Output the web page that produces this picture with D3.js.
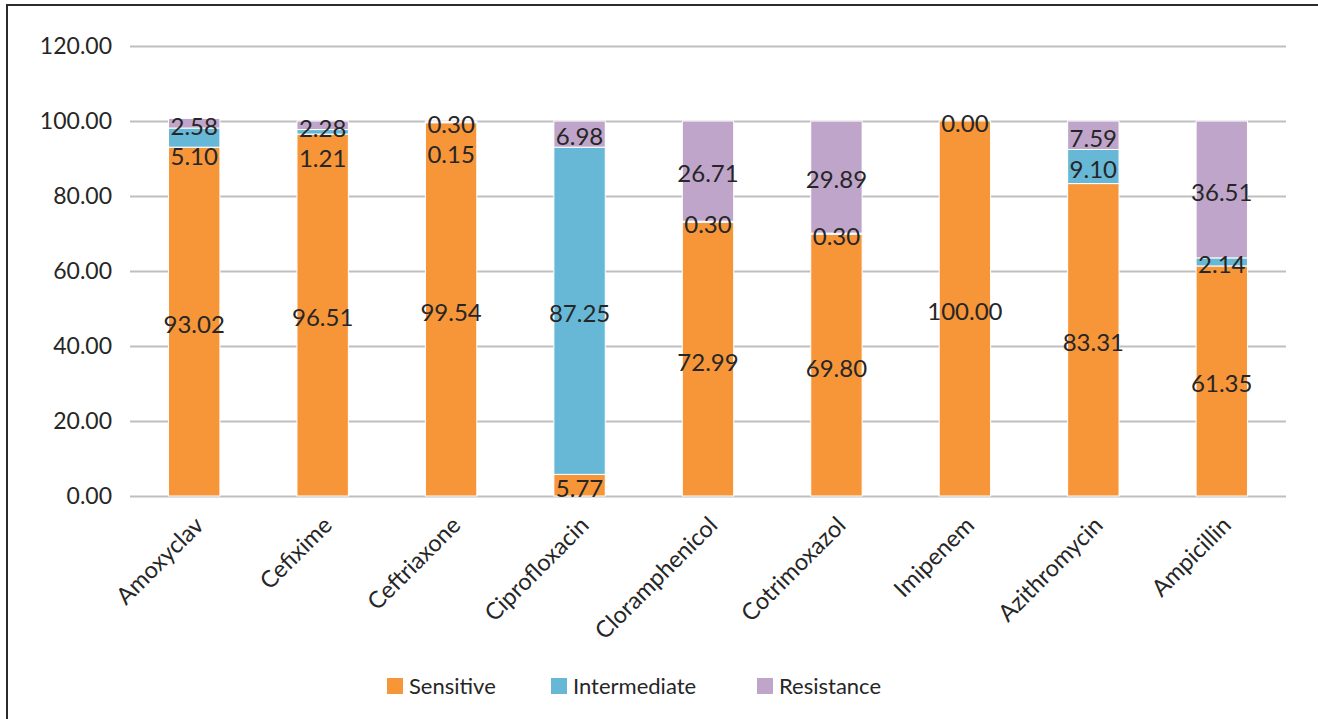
<!DOCTYPE html>
<html>
<head>
<meta charset="utf-8">
<script src="https://cdn.jsdelivr.net/npm/d3@7"></script>
<style>
  html, body { margin: 0; padding: 0; background: #fff; }
  svg { display: block; }
  text { font-family: Lato, "Open Sans", sans-serif; fill: #262626; }
</style>
</head>
<body>
<svg id="chart" width="1318" height="719"></svg>
<script>
const categories = ["Amoxyclav", "Cefixime", "Ceftriaxone", "Ciprofloxacin", "Cloramphenicol", "Cotrimoxazol", "Imipenem", "Azithromycin", "Ampicillin"];
const sensitive    = [93.02, 96.51, 99.54, 5.77, 72.99, 69.80, 100.00, 83.31, 61.35];
const intermediate = [5.10, 1.21, 0.15, 87.25, 0.30, 0.30, null, 9.10, 2.14];
const resistance   = [2.58, 2.28, 0.30, 6.98, 26.71, 29.89, 0.00, 7.59, 36.51];
const seriesNames  = ["Sensitive", "Intermediate", "Resistance"];
const seriesColors = ["#F79539", "#66B8D6", "#BFA5CA"];
const yTicks = [0, 20, 40, 60, 80, 100, 120];

(function () {
const svg = d3.select("#chart");
const W = 1318, H = 719;
const pLeft = 130, pRight = 1286, pTop = 46, pBottom = 496;

// outer frame
svg.append("rect").attr("x", 7).attr("y", 5).attr("width", W + 20).attr("height", H + 20)
  .attr("fill", "none").attr("stroke", "#2b2b2b").attr("stroke-width", 2);

const x = d3.scaleBand().domain(categories).range([pLeft, pRight]).paddingInner(0.6).paddingOuter(0.3);
const y = d3.scaleLinear().domain([0, 120]).range([pBottom, pTop]);

// gridlines
const yAxis = d3.axisLeft(y).tickValues(yTicks).tickSize(-(pRight - pLeft)).tickFormat(d => d.toFixed(2)).tickPadding(18);
const gy = svg.append("g").attr("transform", `translate(${pLeft},0)`).call(yAxis);
gy.select(".domain").remove();
gy.selectAll(".tick line").attr("stroke", "#BFBFBF").attr("stroke-width", 2);
gy.selectAll(".tick text").attr("font-size", 23).attr("fill", "#262626")
  .style("font-family", "Lato, 'Open Sans', sans-serif");

// stacked data
const series = [sensitive, intermediate, resistance];
const stacks = categories.map((c, i) => {
  let acc = 0;
  return series.map((s, k) => {
    const v = s[i];
    const seg = { cat: c, k, v, y0: acc, y1: acc + (v || 0) };
    acc += (v || 0);
    return seg;
  });
});

const gBars = svg.append("g");
stacks.forEach(segs => {
  segs.forEach(seg => {
    if (seg.v == null || seg.v === 0) return;
    gBars.append("rect")
      .attr("x", x(seg.cat))
      .attr("width", x.bandwidth())
      .attr("y", y(seg.y1))
      .attr("height", y(seg.y0) - y(seg.y1))
      .attr("fill", seriesColors[seg.k])
      .attr("stroke", "#fff").attr("stroke-width", 1);
  });
});

// labels with simple top-down collision avoidance
const gLab = svg.append("g");
stacks.forEach(segs => {
  const shown = segs.filter(s => s.v != null).slice().reverse(); // top first
  let prev = -Infinity;
  shown.forEach(seg => {
    let cy = y((seg.y0 + seg.y1) / 2) + 3;
    cy = Math.max(cy, prev + 30);
    prev = cy;
    gLab.append("text")
      .attr("x", x(seg.cat) + x.bandwidth() / 2)
      .attr("y", cy)
      .attr("dy", "0.35em")
      .attr("text-anchor", "middle")
      .attr("font-size", 24)
      .text(seg.v.toFixed(2));
  });
});

// x labels
const gx = svg.append("g");
categories.forEach(c => {
  const cx = x(c) + x.bandwidth() / 2;
  gx.append("text")
    .attr("transform", `translate(${cx + 5},${pBottom + 25}) rotate(-45)`)
    .attr("text-anchor", "end")
    .attr("dy", "0.35em")
    .attr("font-size", 23.5)
    .text(c);
});

// legend
const legendX = [387, 551, 757];
const legendY = 686;
seriesNames.forEach((n, k) => {
  svg.append("rect").attr("x", legendX[k]).attr("y", legendY - 8).attr("width", 16).attr("height", 16)
    .attr("fill", seriesColors[k]);
  svg.append("text").attr("x", legendX[k] + 22).attr("y", legendY).attr("dy", "0.35em")
    .attr("font-size", 22).text(n);
});
})();
</script>
</body>
</html>
